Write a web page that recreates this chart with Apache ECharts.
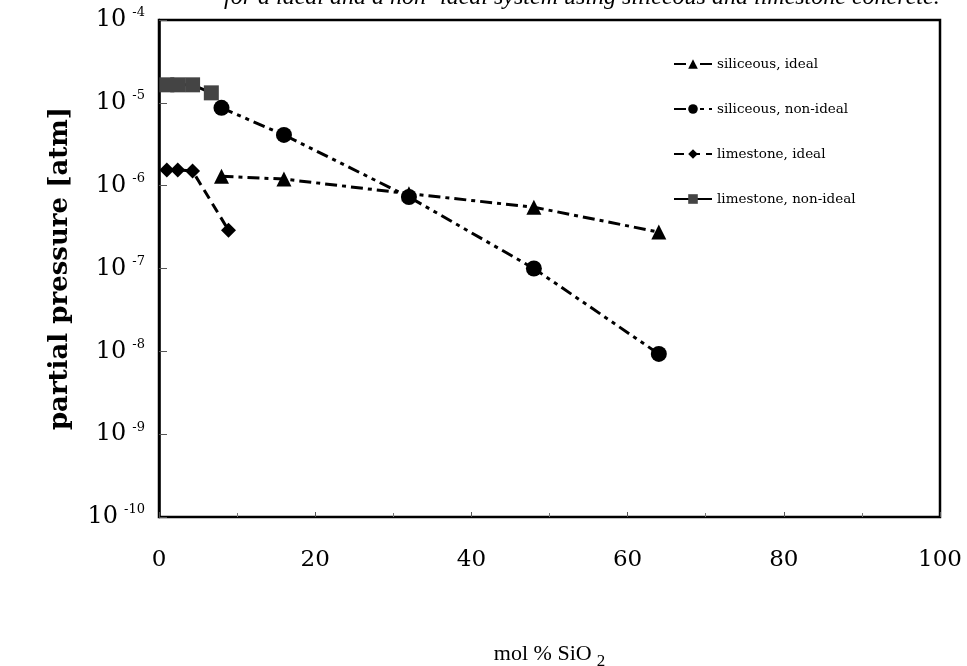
<!DOCTYPE html>
<html>
<head>
<meta charset="utf-8">
<script src="https://cdn.jsdelivr.net/npm/echarts@6/dist/echarts.min.js"></script>
<style>
  html, body { margin: 0; padding: 0; background: #fff; }
  #chart { width: 967px; height: 666px; }
</style>
</head>
<body>
<div id="chart"></div>
<script>
const seriesNames = ["siliceous, ideal", "siliceous, non-ideal", "limestone, ideal", "limestone, non-ideal"];

const siliceousIdealX = [8, 16, 32, 48, 64];
const siliceousIdealY = [1.3e-6, 1.2e-6, 8.0e-7, 5.5e-7, 2.75e-7];

const siliceousNonIdealX = [8, 16, 32, 48, 64];
const siliceousNonIdealY = [8.7e-6, 4.1e-6, 7.3e-7, 1.0e-7, 9.3e-9];

const limestoneIdealX = [1, 2.4, 4.3, 8.9];
const limestoneIdealY = [1.55e-6, 1.55e-6, 1.5e-6, 2.9e-7];

const limestoneNonIdealX = [1, 2.4, 4.3, 6.7];
const limestoneNonIdealY = [1.65e-5, 1.65e-5, 1.65e-5, 1.32e-5];

const xTicks = [0, 20, 40, 60, 80, 100];

const zip = (xs, ys) => xs.map((x, i) => [x, ys[i]]);

const serif = "DejaVu Serif";

const chart = echarts.init(document.getElementById("chart"));

// make one series, style bits passed in
const makeSeries = (name, data, symbol, size, color, lineType) => ({
  name: name,
  type: "line",
  data: data,
  symbol: symbol,
  symbolSize: size,
  itemStyle: { color: color },
  lineStyle: { color: "#000", width: 3, type: lineType },
  z: 3,
});

chart.setOption({
  animation: false,
  backgroundColor: "#fff",
  graphic: [
    {
      type: "text",
      left: 224,
      top: -14,
      style: {
        text: "for a ideal and a non- ideal system using siliceous and limestone concrete.",
        font: "italic 24px 'Liberation Serif'",
        fill: "#000",
      },
    },
  ],
  grid: {
    left: 159,
    right: 27,
    top: 20,
    bottom: 149,
    outerBoundsMode: "none",
    show: true,
    borderColor: "#000",
    borderWidth: 2.5,
  },
  legend: {
    orient: "vertical",
    left: 668,
    top: 52,
    itemGap: 31,
    itemWidth: 38,
    itemHeight: 12,
    textStyle: { fontFamily: serif, fontSize: 13.5, color: "#000" },
    data: seriesNames,
  },
  xAxis: {
    type: "value",
    min: 0,
    max: 100,
    interval: 20,
    name: "mol % SiO{sub|2}",
    nameLocation: "middle",
    nameGap: 122,
    nameTextStyle: {
      fontFamily: "Liberation Serif",
      fontSize: 22,
      color: "#000",
      rich: { sub: { fontFamily: "Liberation Serif", fontSize: 17, padding: [14, 0, 0, 5] } },
    },
    axisLine: { show: true, lineStyle: { color: "#000", width: 2 } },
    axisTick: { show: true, inside: true, length: 5, lineStyle: { color: "#555" } },
    minorTick: { show: true, splitNumber: 2, length: 4, lineStyle: { color: "#777" } },
    splitLine: { show: false },
    axisLabel: {
      margin: 32,
      fontFamily: serif,
      fontSize: 23,
      color: "#000",
      formatter: (v) => (xTicks.includes(v) ? String(v) : ""),
    },
  },
  yAxis: {
    type: "log",
    logBase: 10,
    min: 1e-10,
    max: 1e-4,
    name: "partial pressure [atm]",
    nameLocation: "middle",
    nameGap: 86,
    nameTextStyle: { fontFamily: serif, fontWeight: "bold", fontSize: 26, color: "#000" },
    axisLine: { show: true, lineStyle: { color: "#000", width: 2.5 } },
    axisTick: { show: true, inside: true, length: 8, lineStyle: { color: "#555" } },
    splitLine: { show: false },
    axisLabel: {
      margin: 14,
      color: "#000",
      formatter: (v) => "{b|10}{s|" + Math.round(Math.log10(v)) + "}",
      rich: {
        b: { fontFamily: serif, fontSize: 24, color: "#000" },
        s: { fontFamily: serif, fontSize: 13, color: "#000", padding: [0, 0, 14, 6] },
      },
    },
  },
  series: [
    makeSeries(seriesNames[0], zip(siliceousIdealX, siliceousIdealY), "triangle", 15, "#000", [12, 5, 4, 5]),
    makeSeries(seriesNames[1], zip(siliceousNonIdealX, siliceousNonIdealY), "circle", 16, "#000", [12, 5, 4, 5, 4, 5]),
    makeSeries(seriesNames[2], zip(limestoneIdealX, limestoneIdealY), "diamond", 15, "#000", [10, 6]),
    makeSeries(seriesNames[3], zip(limestoneNonIdealX, limestoneNonIdealY), "rect", 15, "#444", "solid"),
  ],
});
</script>
</body>
</html>
